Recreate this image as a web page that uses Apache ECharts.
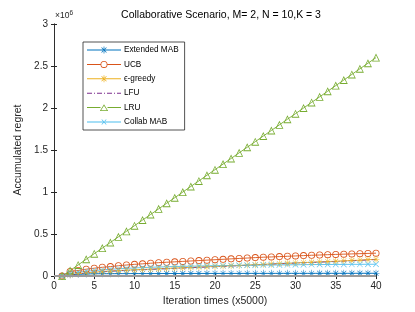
<!DOCTYPE html>
<html><head><meta charset="utf-8">
<script src="https://cdn.jsdelivr.net/npm/echarts@6/dist/echarts.min.js"></script>
<style>html,body{margin:0;padding:0;background:#fff}#c{width:415px;height:312px}</style>
</head><body><div id="c"></div>
<script>
const iterations = [1,2,3,4,5,6,7,8,9,10,11,12,13,14,15,16,17,18,19,20,21,22,23,24,25,26,27,28,29,30,31,32,33,34,35,36,37,38,39,40];
const extendedMAB = [0,15000,22000,25000,27000,28000,28500,29000,29500,30000,30000,30500,30500,31000,31000,31000,31500,31500,31500,32000,32000,32000,32000,32500,32500,32500,32500,33000,33000,33000,33000,33000,33500,33500,33500,33500,33500,34000,34000,34000];
const ucb = [0,55000,67000,82000,94000,105000,113000,123000,132000,140000,146000,153000,160000,165000,170000,175000,180000,185000,190000,195000,200000,205000,210000,215000,220000,225000,228000,232000,236000,240000,244000,248000,251000,255000,258000,261000,264000,267000,270000,273000];
const epsGreedy = [0,15000,27000,38000,47000,54000,60000,66000,71000,75000,79000,83000,87000,91000,95000,99000,103000,107000,111000,115000,119000,123000,127000,131000,135000,140000,145000,149000,153000,157000,161000,165000,169000,173000,177000,181000,186000,190000,195000,200000];
const lfu = [0,13000,24000,35000,44000,51000,57000,63000,68000,72000,76000,80000,84000,88000,92000,96000,100000,104000,108000,112000,116000,120000,124000,128000,132000,137000,142000,146000,150000,154000,158000,162000,166000,170000,174000,178000,183000,187000,192000,197000];
const lru = [0,66000,133000,200000,267000,333000,400000,467000,533000,600000,667000,733000,800000,867000,933000,1000000,1067000,1133000,1200000,1267000,1333000,1400000,1467000,1533000,1600000,1667000,1733000,1800000,1867000,1933000,2000000,2067000,2133000,2200000,2267000,2333000,2400000,2467000,2533000,2600000];
const collabMAB = [0,30000,45000,57000,66000,74000,81000,87000,92000,97000,101000,105000,108000,111000,114000,116000,118000,120000,122000,124000,125000,127000,128000,129000,130000,131000,132000,133000,134000,135000,136000,137000,138000,138000,139000,139000,140000,140000,141000,141000];
const seriesNames = ['Extended MAB','UCB','ϵ-greedy','LFU','LRU','Collab MAB'];

const FONT = 'Liberation Sans';
const AX = '#262626';
const COLORS = ['#0072BD','#D95319','#EDB120','#7E2F8E','#77AC30','#4DBEEE'];
// plot markers (paths, scaled to symbolSize)
const asterisk = 'path://M-0.7,-10L0.7,-10L0.7,10L-0.7,10Z M-10,-0.7L10,-0.7L10,0.7L-10,0.7Z M-7.6,-6.6L6.6,7.6L7.6,6.6L-6.6,-7.6Z M-7.6,6.6L6.6,-7.6L7.6,-6.6L-6.6,7.6Z';
const cross = 'path://M-7.6,-6.6L6.6,7.6L7.6,6.6L-6.6,-7.6Z M-7.6,6.6L6.6,-7.6L7.6,-6.6L-6.6,7.6Z';
const ring = 'path://M0,-10A10,10 0 1,1 0,10A10,10 0 1,1 0,-10Z M0,-7.6A7.6,7.6 0 1,0 0,7.6A7.6,7.6 0 1,0 0,-7.6Z';
const tri = 'path://M0,-10L10,8L-10,8Z M0,-6.2L-6.9,5.9L6.9,5.9Z';
const blank = 'path://M-10,-10L-9.99,-10L-9.99,-9.99Z M10,10L9.99,10L9.99,9.99Z';
// legend icons: 340x70 units box = 34x7 px
const A = 'M0,0L0.2,0L0,0.2Z M340,70L339.8,70L340,69.8Z ';
const solidLine = 'M0,30L340,30L340,40L0,40Z ';
const sideLines = 'M0,30L135,30L135,40L0,40Z M205,30L340,30L340,40L205,40Z ';
const iAst = 'M166.5,0L173.5,0L173.5,70L166.5,70Z M143,12.7L147.7,8L197,57.3L192.3,62Z M143,57.3L147.7,62L197,12.7L192.3,8Z ';
const iCross = 'M145,13L149.5,8.5L195,57L190.5,61.5Z M145,57L149.5,61.5L195,13L190.5,8.5Z ';
const iRing = 'M170,0A35,35 0 1,1 170,70A35,35 0 1,1 170,0Z M170,8A27,27 0 1,0 170,62A27,27 0 1,0 170,8Z ';
const iTri = 'M170,2L212,68L128,68Z M170,17L141,61L199,61Z ';
const dashDot = 'M0,30L50,30L50,40L0,40Z M70,30L80,30L80,40L70,40Z M100,30L150,30L150,40L100,40Z M170,30L180,30L180,40L170,40Z M200,30L250,30L250,40L200,40Z M270,30L280,30L280,40L270,40Z M300,30L340,30L340,40L300,40Z ';
const legendIcons = [
  'path://' + A + solidLine + iAst,
  'path://' + A + sideLines + iRing,
  'path://' + A + solidLine + iAst,
  'path://' + A + dashDot,
  'path://' + A + sideLines + iTri,
  'path://' + A + solidLine + iCross
];

function pairs(arr){ return iterations.map((x,i)=>[x,arr[i]]); }
function mk(name, data, color, symbol, size, extra){
  return Object.assign({
    name, type:'line', data:pairs(data), symbol, symbolSize:size, showSymbol:true,
    lineStyle:{color, width:0.9}, itemStyle:{color, borderWidth:0}, animation:false
  }, extra||{});
}
const chart = echarts.init(document.getElementById('c'), null, {renderer:'canvas'});
const xBase = {type:'value', min:0, max:40, interval:5,
  axisLine:{lineStyle:{color:AX, width:0.8}}, axisTick:{inside:true, length:3, lineStyle:{color:AX}},
  splitLine:{show:false}};
const yBase = {type:'value', min:0, max:3000000, interval:500000,
  axisLine:{show:true, lineStyle:{color:AX, width:0.8}}, axisTick:{show:true, inside:true, length:3, lineStyle:{color:AX}},
  splitLine:{show:false}};
const extSeries = mk(seriesNames[0], extendedMAB, COLORS[0], asterisk, 7);
extSeries.markLine = {silent:true, symbol:'none', label:{show:false}, animation:false,
  lineStyle:{color:'#9a9a9a', width:2.2, type:'solid'}, data:[{yAxis:0}]};
const legendData = seriesNames.map((n,i)=>({name:n, icon:legendIcons[i], itemStyle:{color:COLORS[i], borderWidth:0}}));
chart.setOption({
  animation:false,
  textStyle:{fontFamily:FONT},
  title:{text:'Collaborative Scenario, M= 2, N = 10,K = 3', left:216, top:5, textAlign:'center',
    textStyle:{fontFamily:FONT, fontSize:10.5, fontWeight:'normal', color:'#000'}},
  grid:{left:54, right:39, top:24, bottom:34},
  legend:{orient:'vertical', left:83, top:42, itemWidth:34, itemHeight:7, itemGap:6.4,
    padding:[4,6,4,4], borderColor:AX, borderWidth:0.8, backgroundColor:'#fff',
    textStyle:{fontFamily:FONT, fontSize:8.2, color:'#000', padding:[0,0,0,-2]},
    data:legendData},
  xAxis:[
    Object.assign({}, xBase, {position:'bottom', name:'Iteration times (x5000)', nameLocation:'middle', nameGap:19,
      nameTextStyle:{fontFamily:FONT, fontSize:10.5, color:AX},
      axisLabel:{fontFamily:FONT, fontSize:10, color:AX, margin:5}}),
    Object.assign({}, xBase, {position:'top', axisLabel:{show:false}})
  ],
  yAxis:[
    Object.assign({}, yBase, {position:'left', name:'Accumulated regret', nameLocation:'middle', nameGap:27,
      nameTextStyle:{fontFamily:FONT, fontSize:10.5, color:AX},
      axisLabel:{fontFamily:FONT, fontSize:10, color:AX, margin:6, formatter:v=>String(+(v/1e6).toFixed(1))}}),
    Object.assign({}, yBase, {position:'right', axisLabel:{show:false}})
  ],
  graphic:[{type:'text', left:55, top:10, style:{text:'×10{s|6}', font:'8.5px '+FONT, fill:AX,
    rich:{s:{fontSize:6.5, verticalAlign:'top', padding:[0,0,5,0]}}}}],
  series:[
    extSeries,
    mk(seriesNames[1], ucb, COLORS[1], ring, 7),
    mk(seriesNames[2], epsGreedy, COLORS[2], asterisk, 7),
    mk(seriesNames[3], lfu, COLORS[3], blank, 1, {showSymbol:false, lineStyle:{color:COLORS[3], width:0.9, type:[5,2,1,2]}}),
    mk(seriesNames[4], lru, COLORS[4], tri, 8),
    mk(seriesNames[5], collabMAB, COLORS[5], cross, 6)
  ]
});
</script></body></html>
